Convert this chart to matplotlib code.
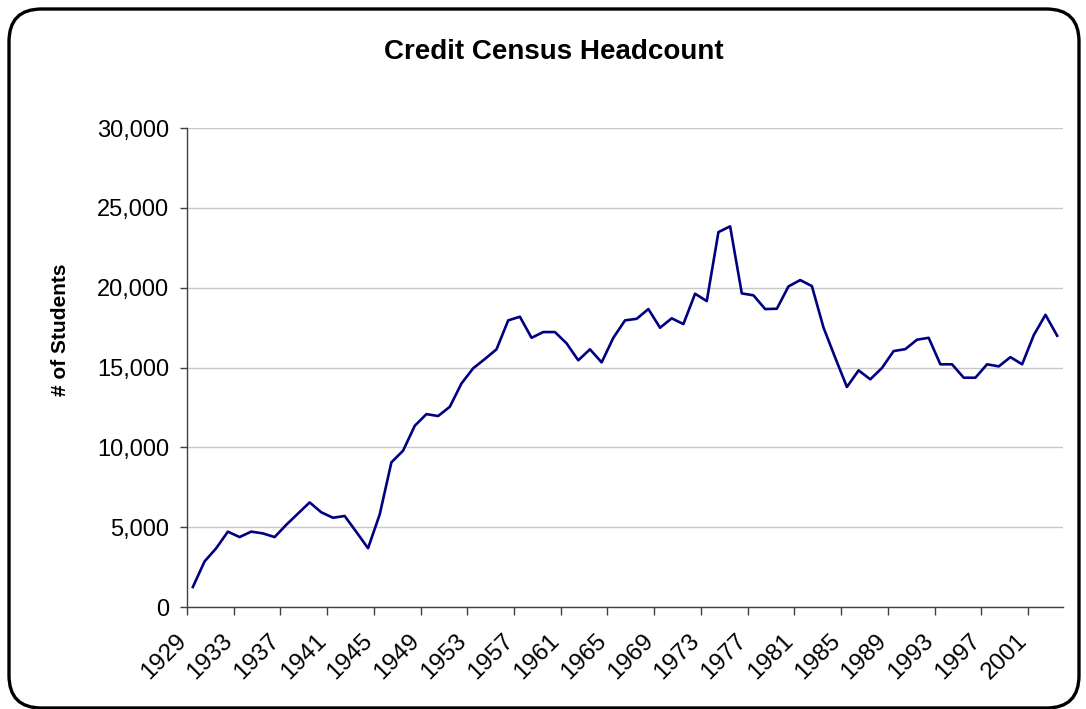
import matplotlib
matplotlib.use("Agg")
import matplotlib.pyplot as plt
from matplotlib.patches import FancyBboxPatch
from matplotlib.ticker import FuncFormatter
import matplotlib.transforms as mtransforms

plt.rcParams['font.family'] = ['Liberation Sans', 'DejaVu Sans']

years = list(range(1929, 2004))
students = [
    1250, 2850, 3680, 4720, 4380, 4720, 4610, 4380, 5150, 5850,
    6550, 5930, 5590, 5700, 4700, 3680, 5800, 9060, 9790, 11350,
    12080, 11960, 12540, 14000, 14950, 15530, 16140, 17950, 18180, 16860,
    17220, 17220, 16510, 15450, 16140, 15320, 16860, 17950, 18050, 18660,
    17490, 18080, 17720, 19620, 19160, 23480, 23840, 19640, 19520, 18660,
    18680, 20080, 20475, 20100, 17490, 15610, 13780, 14820, 14260, 14970,
    16030, 16150, 16740, 16860, 15200, 15200, 14360, 14360, 15200, 15070,
    15650, 15200, 17030, 18300, 16990,
]
label_years = years[::4]
y_ticks = [0, 5000, 10000, 15000, 20000, 25000, 30000]

W, H = 1086, 709
fig = plt.figure(figsize=(W / 100, H / 100), dpi=100)
fig.patch.set_facecolor('white')

# rounded border
border = FancyBboxPatch((9 / W, 1 / H), (1079 - 9) / W, (700 - 1) / H,
                        boxstyle="round,pad=0,rounding_size=0.03",
                        transform=fig.transFigure, facecolor='none',
                        edgecolor='black', linewidth=2.4, zorder=5,
                        mutation_aspect=W / H)
fig.patches.append(border)

ax = fig.add_axes([187 / W, 1 - 607 / H, (1063 - 187) / W, (607 - 128) / H])
ax.set_facecolor('none')

x = list(range(len(years)))
ax.plot(x, students, color='#000080', linewidth=1.9, zorder=3)

ax.set_xlim(-0.5, len(years) - 0.5)
ax.set_ylim(0, 30000)

# y axis
ax.set_yticks(y_ticks)
ax.yaxis.set_major_formatter(FuncFormatter(lambda v, p: f"{int(v):,}"))
ax.tick_params(axis='y', direction='out', length=5, width=1, color='#404040',
               labelsize=17, pad=8, labelcolor='black')
ax.grid(axis='y', color='#c8c8c8', linewidth=1.0, zorder=0)
ax.set_axisbelow(True)

# x axis: boundary ticks every 4 categories, labels centered on categories
ax.set_xticks([i - 0.5 for i in range(0, len(years), 4)])
ax.set_xticklabels([])
ax.tick_params(axis='x', which='major', direction='out', length=6, width=1,
               color='#404040')
ax.set_xticks(list(range(0, len(years), 4)), minor=True)
ax.set_xticklabels([str(y) for y in label_years], minor=True, rotation=45,
                   ha='right', va='top', rotation_mode='anchor', fontsize=17.5)
ax.tick_params(axis='x', which='minor', length=0, pad=0)
offset = mtransforms.ScaledTranslation(-18 / 100, -23 / 100, fig.dpi_scale_trans)
for lab in ax.get_xticklabels(minor=True):
    lab.set_transform(lab.get_transform() + offset)

for s in ['top', 'right']:
    ax.spines[s].set_visible(False)
for s in ['left', 'bottom']:
    ax.spines[s].set_color('#404040')
    ax.spines[s].set_linewidth(1.0)

fig.text(554 / W, 1 - 52 / H, "Credit Census Headcount", ha='center',
         va='center', fontsize=20, fontweight='bold')
fig.text(60 / W, 1 - 330 / H, "# of Students", ha='center', va='center',
         rotation=90, fontsize=15, fontweight='bold')

fig.savefig("out.png", dpi=100, facecolor='white')
